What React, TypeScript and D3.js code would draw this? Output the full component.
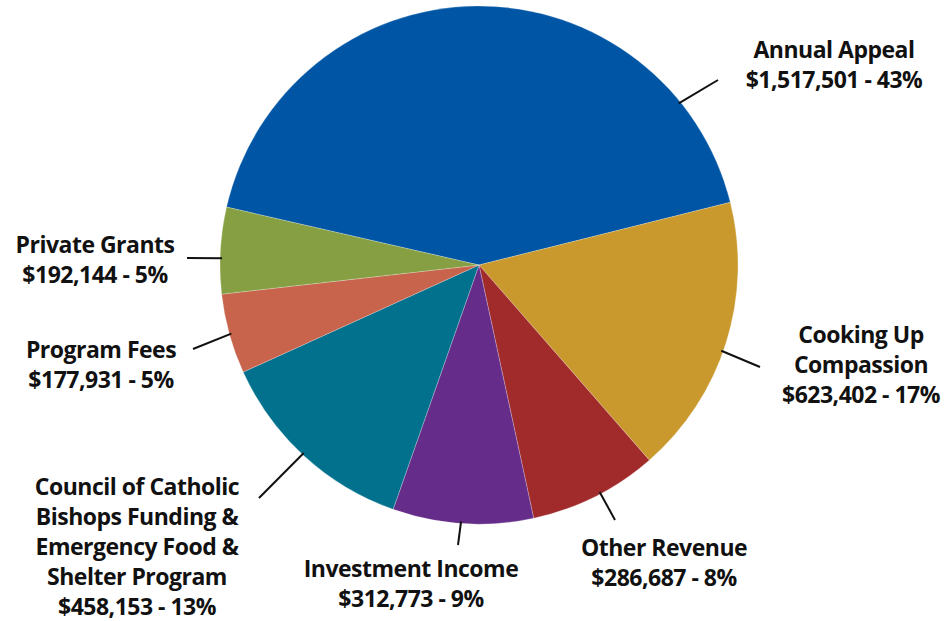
import React from 'react';
import * as d3 from 'd3';

const categories = [
  'Annual Appeal',
  'Cooking Up Compassion',
  'Other Revenue',
  'Investment Income',
  'Council of Catholic Bishops Funding & Emergency Food & Shelter Program',
  'Program Fees',
  'Private Grants',
];
const amounts = [1517501, 623402, 286687, 312773, 458153, 177931, 192144];
const percentLabels = ['43%', '17%', '8%', '9%', '13%', '5%', '5%'];
const labelLines = [
  ['Annual Appeal'],
  ['Cooking Up', 'Compassion'],
  ['Other Revenue'],
  ['Investment Income'],
  ['Council of Catholic', 'Bishops Funding &', 'Emergency Food &', 'Shelter Program'],
  ['Program Fees'],
  ['Private Grants'],
];
const colors = ['#0055a4', '#c9992d', '#a12a2a', '#652d89', '#02718d', '#c8634c', '#869f42'];

// label layout: text centre x, first line centre y, leader angle on rim (deg), leader end
const labelLayout = [
  { x: 834, y: 50, angle: 51, ex: 718, ey: 80 },
  { x: 861, y: 335, angle: 109.5, ex: 760, ey: 367 },
  { x: 664, y: 548, angle: 152, ex: 615, ey: 520 },
  { x: 411, y: 569, angle: 184, ex: 458, ey: 545 },
  { x: 137, y: 487, angle: 223, ex: 259, ey: 498 },
  { x: 101, y: 350, angle: 254.5, ex: 193, ey: 349 },
  { x: 95, y: 245, angle: 271.5, ex: 187, ey: 258 },
];

const W = 944;
const H = 621;
const cx = 479;
const cy = 265;
const R = 259;
const lineH = 30;

export default function App() {
  const total = d3.sum(amounts);
  // first slice ends at ~76° clockwise from 12 o'clock
  const start = ((76 - (amounts[0] / total) * 360) * Math.PI) / 180;
  const pie = d3
    .pie<number>()
    .sort(null)
    .value((d) => d)
    .startAngle(start)
    .endAngle(start + Math.PI * 2);
  const arcs = pie(amounts);
  const arc = d3.arc<d3.PieArcDatum<number>>().innerRadius(0).outerRadius(R);
  const fmt = d3.format('$,');

  return (
    <svg width={W} height={H} style={{ position: 'absolute', left: 0, top: 0 }}>
      <g transform={`translate(${cx},${cy})`}>
        {arcs.map((a, i) => (
          <path key={categories[i]} d={arc(a) || ''} fill={colors[i]} stroke="#ffffff" strokeOpacity={0.4} strokeWidth={0.6} />
        ))}
      </g>
      {labelLayout.map((l, i) => {
        const rad = (l.angle * Math.PI) / 180;
        const sx = cx + Math.sin(rad) * (R - 2);
        const sy = cy - Math.cos(rad) * (R - 2);
        const lines = [...labelLines[i], `${fmt(amounts[i])} - ${percentLabels[i]}`];
        return (
          <g key={categories[i]}>
            <line x1={sx} y1={sy} x2={l.ex} y2={l.ey} stroke="#111" strokeWidth={2} />
            <text
              x={l.x}
              textAnchor="middle"
              fontFamily="'Open Sans', sans-serif"
              fontWeight={700}
              fontSize={23}
              letterSpacing={-0.5}
              fill="#111"
            >
              {lines.map((t, j) => (
                <tspan key={j} x={l.x} y={l.y + j * lineH} dy="0.36em">
                  {t}
                </tspan>
              ))}
            </text>
          </g>
        );
      })}
    </svg>
  );
}
